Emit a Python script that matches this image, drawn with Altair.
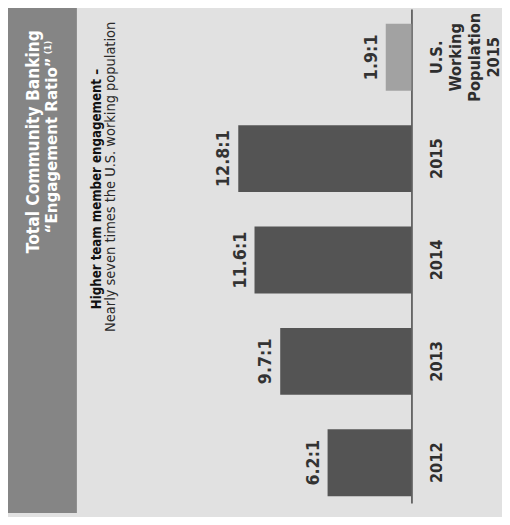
import altair as alt
import pandas as pd

# ---- data ----
categories = ["U.S.|Working|Population|2015", "2015", "2014", "2013", "2012"]
ratios = [1.9, 12.8, 11.6, 9.7, 6.2]
ratio_labels = ["1.9:1", "12.8:1", "11.6:1", "9.7:1", "6.2:1"]
groups = ["benchmark", "company", "company", "company", "company"]

title_line1 = "Total Community Banking"
title_line2 = "\u201cEngagement Ratio\u201d"
title_note = "(1)"
headline = "Higher team member engagement \u2013"
subline = "Nearly seven times the U.S. working population"

FONT = "DejaVu Sans Condensed, DejaVu Sans"
BG = "#e1e1e1"
BAND = "#858585"

df = pd.DataFrame({
    "category": categories,
    "ratio": ratios,
    "label": ratio_labels,
    "group": groups,
})

y_enc = alt.Y(
    "category:N",
    sort=categories,
    scale=alt.Scale(range=[-3, 499], paddingInner=0.34, paddingOuter=0.107, align=0.68),
    axis=alt.Axis(
        orient="right",
        title=None,
        ticks=False,
        domainColor="#1e1e1e",
        domainWidth=1.2,
        labelPadding=18,
        labelAngle=270,
        labelAlign="center",
        labelBaseline="top",
        labelFont=FONT,
        labelFontSize=16.5,
        labelFontWeight="bold",
        labelColor="#2e2e2e",
        labelLineHeight=19.3,
        labelOverlap=False,
        labelExpr="split(datum.label, '|')",
    ),
)
x_enc = alt.X(
    "ratio:Q",
    scale=alt.Scale(domain=[0, 20], range=[410, 135]),
    axis=None,
)

bars = alt.Chart(df).mark_bar().encode(
    x=x_enc,
    y=y_enc,
    color=alt.Color(
        "group:N",
        scale=alt.Scale(domain=["benchmark", "company"], range=["#a2a2a2", "#545454"]),
        legend=None,
    ),
)

values = alt.Chart(df).mark_text(
    angle=270, align="center", baseline="alphabetic", dy=-9,
    font=FONT, fontSize=18, fontWeight="bold", color="#333333",
).encode(x=x_enc, y=alt.Y("category:N", sort=categories), text="label:N")

band_df = pd.DataFrame({"k": [0]})
band = alt.Chart(band_df).mark_rect(color=BAND).encode(
    x=alt.value(-1), x2=alt.value(70), y=alt.value(-8), y2=alt.value(509)
)


def header_text(txt, x, y, size, weight, color, align="left"):
    return alt.Chart(pd.DataFrame({"t": [txt]})).mark_text(
        angle=270, align=align, baseline="alphabetic",
        font=FONT, fontSize=size, fontWeight=weight, color=color,
    ).encode(x=alt.value(x), y=alt.value(y), text="t:N")


t1 = header_text(title_line1, 31, 245, 17.5, "bold", "#ffffff")
t2 = header_text(title_line2, 50, 225, 17.0, "bold", "#ffffff")
t3 = header_text(title_note, 44, 36, 9.5, "bold", "#ffffff", align="center")
t4 = header_text(headline, 94, 302, 13.4, "bold", "#111111")
t5 = header_text(subline, 109, 325, 14.7, "normal", "#2a2a2a")

chart = alt.layer(band, bars, values, t1, t2, t3, t4, t5).properties(
    width=410,
    height=509,
    padding={"left": 0, "top": 0, "right": 92, "bottom": 0},
    autosize=alt.AutoSizeParams(type="none"),
    background=BG,
).configure_view(stroke=None)

chart.save("out.html", embed_options={"renderer": "svg", "actions": False})
